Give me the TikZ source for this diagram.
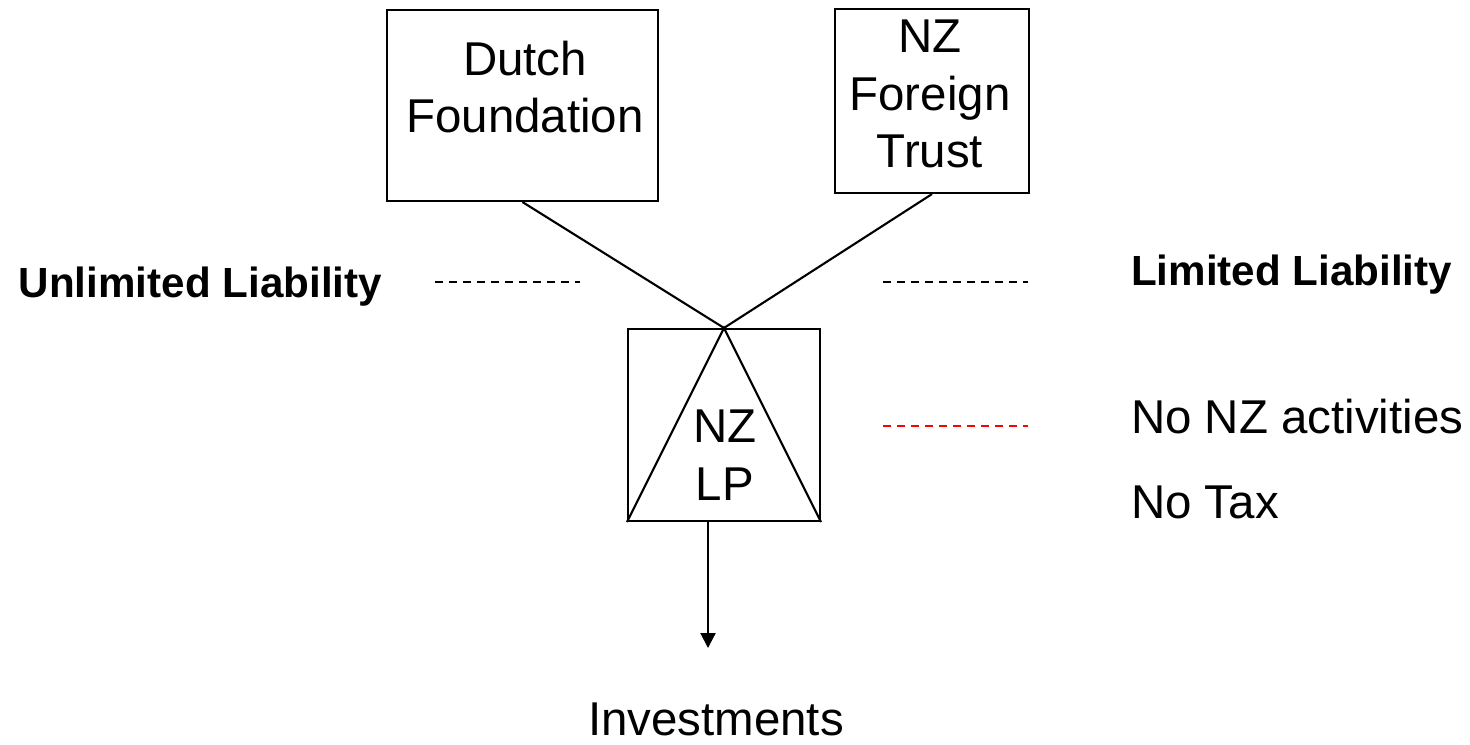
\documentclass[tikz,border=0pt]{standalone}
\usepackage{fontspec}
\setmainfont{Liberation Sans}
\usetikzlibrary{arrows.meta}
\begin{document}
\begin{tikzpicture}[
            line width=0.6pt,
            entity/.style={rectangle, draw=black, inner sep=0pt},
            boxtext/.style={align=center, inner sep=0pt, font=\fontsize{13.5pt}{16.4pt}\selectfont},
            liab/.style={inner sep=0pt, font=\fontsize{12pt}{14pt}\selectfont\bfseries},
            note/.style={inner sep=0pt, anchor=base west, font=\fontsize{13.5pt}{16pt}\selectfont},
            sep/.style={dash pattern=on 0.08cm off 0.06cm},
        ]
            \useasboundingbox (0,0) rectangle (14.7,7.44);
            \node[entity, minimum width=2.71cm, minimum height=1.91cm](dutchnode) at (5.225,6.385) {};
            \node[entity, minimum width=1.94cm, minimum height=1.84cm](trustnode) at (9.32,6.43) {};
            \node[entity, minimum width=1.92cm, minimum height=1.92cm](lpnode) at (7.24,3.19) {};
            \node[boxtext](dutchtext) at (5.25,6.57) {Dutch\\Foundation};
            \node[boxtext](trusttext) at (9.30,6.50) {NZ\\Foreign\\Trust};
            \node[boxtext](lptext) at (7.25,2.89) {NZ\\LP};
            \draw (dutchnode.south) -- (lpnode.north);
            \draw (trustnode.south) -- (lpnode.north);
            \draw (lpnode.south west) -- (lpnode.north) -- (lpnode.south east);
            \node[inner sep=0pt, anchor=base, font=\fontsize{13.5pt}{16pt}\selectfont](invnode) at (7.16,0.09) {Investments};
            \coordinate (invtop) at (7.08,0.96);
            \draw[-{Triangle[width=0.15cm,length=0.15cm]}] (lpnode.south -| invtop) -- (invtop);
            \node[liab, anchor=base east](unlimnode) at (3.83,4.47) {Unlimited Liability};
            \node[liab, anchor=base west](limnode) at (11.30,4.59) {Limited Liability};
            \node[note](actnode) at (11.30,3.11) {No NZ activities};
            \node[note](taxnode) at (11.30,2.26) {No Tax};
            \draw[sep] (4.35,4.62) -- (5.80,4.62);
            \draw[sep] (8.83,4.62) -- (10.28,4.62);
            \draw[sep, red] (8.83,3.18) -- (10.28,3.18);
        \end{tikzpicture}
\end{document}
